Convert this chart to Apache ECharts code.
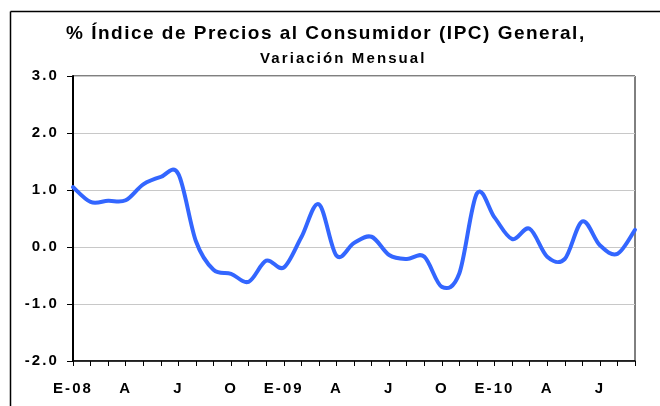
<!DOCTYPE html>
<html>
<head>
<meta charset="utf-8">
<script src="https://cdn.jsdelivr.net/npm/echarts@6/dist/echarts.min.js"></script>
<style>
html,body{margin:0;padding:0;background:#fff;}
#chart{width:660px;height:406px;}
</style>
</head>
<body>
<div id="chart"></div>
<script>
// ---- data ----
var months = ['E-08','F','M','A','M','J','J','A','S','O','N','D',
              'E-09','F','M','A','M','J','J','A','S','O','N','D',
              'E-10','F','M','A','M','J','J','A','S'];
var ipcMensual = [1.05, 0.79, 0.81, 0.82, 1.10, 1.23, 1.28, 0.10, -0.40, -0.47, -0.61, -0.24,
                  -0.36, 0.17, 0.75, -0.15, 0.07, 0.18, -0.14, -0.21, -0.17, -0.70, -0.46, 0.94,
                  0.52, 0.14, 0.32, -0.17, -0.21, 0.45, 0.03, -0.12, 0.30];
var yTicks = [-2, -1, 0, 1, 2, 3];
var titleText = '% Índice de Precios al Consumidor (IPC) General,';
var subtitleText = 'Variación Mensual';

// letter spacing (Excel-like wide text rendering), keyed by font size
var SPACING = {'19': 1.5, '15': 2.1};
(function(){
  var P = window.CanvasRenderingContext2D && CanvasRenderingContext2D.prototype;
  if (!P || !('letterSpacing' in P)) return;
  var d = Object.getOwnPropertyDescriptor(P, 'font');
  if (!d) return;
  Object.defineProperty(P, 'font', {
    configurable: true,
    get: function(){ return d.get.call(this); },
    set: function(v){
      d.set.call(this, v);
      var m = /(\d+(?:\.\d+)?)px/.exec(v);
      var s = m ? SPACING[m[1]] : 0;
      this.letterSpacing = (s || 0) + 'px';
    }
  });
})();

// Excel-style smoothed line (Catmull-Rom Bezier) through points placed by the chart's own scales
function renderSmooth(params, api) {
  if (params.dataIndex !== 0) return null;
  var n = ipcMensual.length;
  var p = [];
  for (var i = 0; i < n; i++) p.push(api.coord([i, ipcMensual[i]]));
  var d = 'M' + p[0][0] + ' ' + p[0][1];
  for (var k = 0; k < n - 1; k++) {
    var p0 = p[Math.max(k - 1, 0)], p1 = p[k], p2 = p[k + 1], p3 = p[Math.min(k + 2, n - 1)];
    var c1x = p1[0] + (p2[0] - p0[0]) / 6, c1y = p1[1] + (p2[1] - p0[1]) / 6;
    var c2x = p2[0] - (p3[0] - p1[0]) / 6, c2y = p2[1] - (p3[1] - p1[1]) / 6;
    d += ' C' + c1x + ' ' + c1y + ' ' + c2x + ' ' + c2y + ' ' + p2[0] + ' ' + p2[1];
  }
  return {
    type: 'path',
    shape: {pathData: d},
    style: {fill: 'none', stroke: '#3366ff', lineWidth: 4, lineJoin: 'round', lineCap: 'round'},
    silent: true
  };
}

var FONT = '"Liberation Sans", Arial, sans-serif';
var chart = echarts.init(document.getElementById('chart'), null, {renderer: 'canvas'});
chart.setOption({
  animation: false,
  backgroundColor: '#ffffff',
  grid: {left: 73, right: 25, top: 76, bottom: 45, show: true, borderColor: '#000', borderWidth: 1, containLabel: false},
  graphic: [
    {type: 'line', shape: {x1: 10.5, y1: 11.5, x2: 660, y2: 11.5}, style: {stroke: '#000', lineWidth: 1.5}, silent: true},
    {type: 'line', shape: {x1: 10.5, y1: 11.5, x2: 10.5, y2: 406}, style: {stroke: '#000', lineWidth: 1.5}, silent: true},
    {type: 'text', x: 66, y: 34, style: {text: titleText, font: 'bold 19px ' + FONT, fill: '#000', textAlign: 'left', textVerticalAlign: 'middle'}},
    {type: 'text', x: 260, y: 59, style: {text: subtitleText, font: 'bold 15px ' + FONT, fill: '#000', textAlign: 'left', textVerticalAlign: 'middle'}}
  ],
  xAxis: {
    type: 'category',
    data: months,
    boundaryGap: false,
    axisLine: {onZero: false, lineStyle: {color: '#000', width: 1.5}},
    axisTick: {show: true, interval: 0, length: 5, inside: false, lineStyle: {color: '#000', width: 1}},
    axisLabel: {interval: 2, margin: 19, color: '#000', fontFamily: FONT, fontWeight: 'bold', fontSize: 15},
    splitLine: {show: false}
  },
  yAxis: {
    type: 'value',
    min: yTicks[0],
    max: yTicks[yTicks.length - 1],
    interval: 1,
    axisLine: {show: true, lineStyle: {color: '#000', width: 2}},
    axisTick: {show: true, length: 6, inside: false, lineStyle: {color: '#000', width: 1}},
    axisLabel: {margin: 14, color: '#000', fontFamily: FONT, fontWeight: 'bold', fontSize: 15,
                formatter: function(v){ return v.toFixed(1); }},
    splitLine: {show: true, lineStyle: {color: '#c8c8c8', width: 1}}
  },
  series: [{
    type: 'custom',
    renderItem: renderSmooth,
    data: ipcMensual.map(function(v, i){ return [i, v]; }),
    encode: {x: 0, y: 1},
    clip: false,
    z: 3
  }]
});
</script>
</body>
</html>
